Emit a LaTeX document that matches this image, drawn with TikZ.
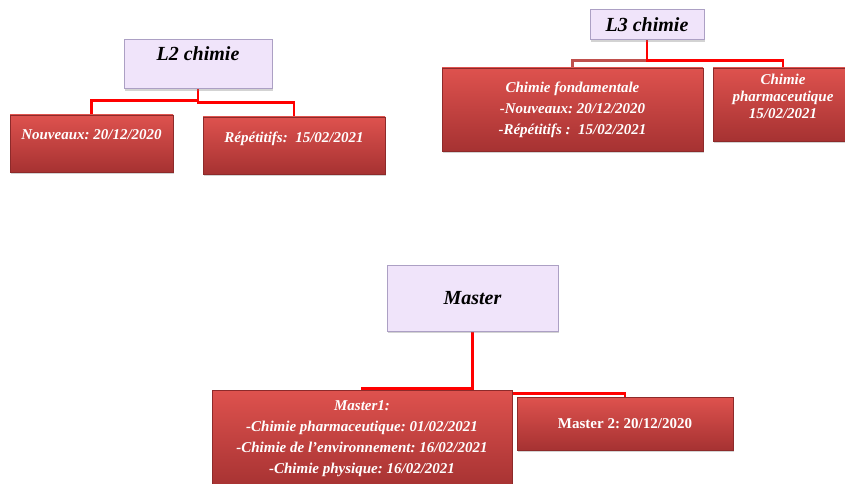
\documentclass[tikz,border=0pt]{standalone}
\usepackage{fontspec}
\setmainfont{Liberation Serif}
\frenchspacing
\usetikzlibrary{shadows,backgrounds,positioning}
\definecolor{lilas}{RGB}{240,228,250}
\definecolor{lilasborder}{RGB}{172,160,196}
\definecolor{redtop}{RGB}{222,82,78}
\definecolor{redbot}{RGB}{166,50,50}
\definecolor{redline}{RGB}{255,0,0}
\definecolor{dimline}{RGB}{192,80,77}
\tikzset{titlebox/.style={draw=lilasborder, fill=lilas, line width=1pt, inner sep=0pt,
    drop shadow={shadow xshift=1pt,shadow yshift=-2pt,opacity=.35},
    font=\fontsize{20}{24}\selectfont\bfseries\itshape}}
\tikzset{datebox/.style={draw=redbot!85!black, top color=redtop, bottom color=redbot,
    text=white, align=center, inner sep=0pt,
    drop shadow={shadow xshift=1pt,shadow yshift=-2pt,opacity=.35},
    font=\fontsize{15}{21}\selectfont\bfseries\itshape}}
\tikzset{link/.style={redline, line width=2.5pt}}

\begin{document}
\begin{tikzpicture}[x=1pt,y=-1pt]
\useasboundingbox (0,0) rectangle (845,484);

% L2
\node[titlebox, minimum width=148pt, minimum height=49pt, text depth=21pt] (l2) at (198,64.5) {L2 chimie};
\node[datebox, minimum width=163pt, minimum height=57pt, text depth=17pt] (nouv) at (91.5,143.5) {Nouveaux: 20/12/2020};
\node[datebox, minimum width=182pt, minimum height=57pt, text depth=16pt] (rep) at (294,145.5) {Répétitifs:~ 15/02/2021};

% L3
\node[titlebox, minimum width=114pt, minimum height=30pt] (l3) at (647,25) {L3 chimie};
\node[datebox, minimum width=261pt, minimum height=83pt] (fond) at (572.5,109.5)
  {Chimie fondamentale\\-Nouveaux: 20/12/2020\\-Répétitifs :~ 15/02/2021};
\node[datebox, minimum width=140pt, minimum height=73pt, text depth=17pt,
  font=\fontsize{15}{17}\selectfont\bfseries\itshape] (pharma) at (783,104.5)
  {Chimie\\pharmaceutique\\15/02/2021};

% Master
\node[titlebox, minimum width=171pt, minimum height=66pt] (master) at (472.5,298) {Master};
\node[datebox, minimum width=300pt, minimum height=98pt] (mone) at (362,439)
  {Master1:\\-Chimie pharmaceutique: 01/02/2021\\-Chimie de l’environnement: 16/02/2021\\-Chimie physique: 16/02/2021};
\node[datebox, minimum width=216pt, minimum height=53pt, font=\fontsize{15}{21}\selectfont\bfseries] (mtwo) at (625,423.5) {Master 2: 20/12/2020};

\begin{scope}[on background layer]
\draw[link] (l2.south) -- ++(0,11) -| (nouv.north);
\draw[link] (l2.south) -- ++(0,13) -| (rep.north);
\draw[link, dimline] (l3.south) -- ++(0,20) -| (fond.north);
\draw[link] (l3.south) -- ++(0,20) -| (pharma.north);
\draw[link] (master.south) -- ++(0,57) -| (mone.north);
\draw[link] (master.south) -- ++(0,62) -| (mtwo.north);
\end{scope}
\end{tikzpicture}
\end{document}
